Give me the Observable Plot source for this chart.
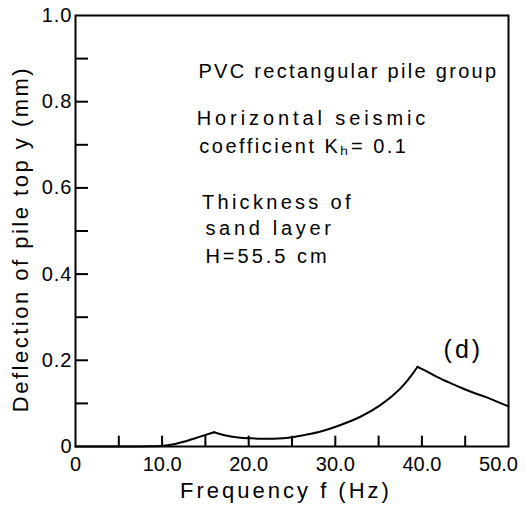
<!DOCTYPE html>
<html>
<head>
<meta charset="utf-8">
<script src="https://cdn.jsdelivr.net/npm/d3@7"></script>
<script src="https://cdn.jsdelivr.net/npm/@observablehq/plot@0.6"></script>
<style>
  html, body { margin: 0; padding: 0; background: #fff; }
</style>
</head>
<body>
<div id="chart"></div>
<script>
// Frequency (Hz) and deflection of pile top (mm)
const freq = [0, 5, 7, 8.5, 10.2, 11.5, 12.5, 14.4, 16.0, 17.5, 18.8, 20.2, 21.5, 22.9, 24.0, 25.2, 26.5, 28.3, 30.6, 32.9, 35.2, 36.8, 37.9, 38.9, 39.5, 40.5, 41.8, 43.3, 44.8, 46.2, 47.5, 48.8, 50];
const deflection = [0, 0, 0, 0.0005, 0.002, 0.006, 0.011, 0.023, 0.033, 0.025, 0.021, 0.019, 0.018, 0.018, 0.019, 0.022, 0.027, 0.035, 0.050, 0.069, 0.096, 0.121, 0.143, 0.168, 0.185, 0.175, 0.161, 0.147, 0.134, 0.123, 0.114, 0.103, 0.093];
// frequencies of the two sharp resonance peaks (cusps in the curve)
const peakFreqs = [16.0, 39.5];

const xTicks = [0, 10, 20, 30, 40];
const xTickLabels = ["0", "10.0", "20.0", "30.0", "40.0"];
const xLastTick = [50];
const xLastLabel = "50.0";
const xMinorTicks = [5, 10, 15, 20, 25, 30, 35, 40, 45];
const yTicks = [0, 0.2, 0.4, 0.6, 0.8, 1.0];
const yTickLabels = ["0", "0.2", "0.4", "0.6", "0.8", "1.0"];
const yMinorTicks = [0.1, 0.2, 0.3, 0.4, 0.5, 0.6, 0.7, 0.8, 0.9];

const xLabel = "Frequency f (Hz)";
const yLabel = "Deflection of pile top y (mm)";
const noteTexts = ["PVC rectangular pile group", "Horizontal seismic", "coefficient K\u2095= 0.1", "Thickness of", "sand layer", "H=55.5 cm"];
const panelLabel = "(d)";

// split the curve at the peaks so each branch is smooth and the peaks stay sharp
const rows = [];
let seg = 0;
freq.forEach((f, i) => {
  rows.push({f, y: deflection[i], seg});
  if (peakFreqs.includes(f)) { seg++; rows.push({f, y: deflection[i], seg}); }
});

const notes = [
  {text: noteTexts[0], f: 14.2, v: 0.854},
  {text: noteTexts[1], f: 14.0, v: 0.746},
  {text: noteTexts[2], f: 14.3, v: 0.681},
  {text: noteTexts[3], f: 14.6, v: 0.552},
  {text: noteTexts[4], f: 15.0, v: 0.490},
  {text: noteTexts[5], f: 15.0, v: 0.425}
];

const chart = Plot.plot({
  width: 525,
  height: 513,
  marginLeft: 75,
  marginRight: 17,
  marginTop: 15,
  marginBottom: 67,
  style: {fontFamily: "Liberation Sans, Arial, sans-serif", background: "white", color: "black"},
  x: {domain: [0, 50]},
  y: {domain: [0, 1]},
  marks: [
    Plot.ruleX(xMinorTicks, {y1: 0, y2: 0.024, stroke: "black", strokeWidth: 2}),
    Plot.ruleY(yMinorTicks, {x1: 0, x2: 1.5, stroke: "black", strokeWidth: 2}),
    Plot.axisX(xTicks, {tickSize: 0, tickPadding: 10, fontSize: 20, label: null,
      tickFormat: d => xTickLabels[xTicks.indexOf(d)]}),
    Plot.axisX(xLastTick, {tickSize: 0, tickPadding: 10, fontSize: 20, label: null, dx: -10,
      tickFormat: () => xLastLabel}),
    Plot.axisY(yTicks, {tickSize: 0, tickPadding: 3, fontSize: 20, label: null,
      tickFormat: d => yTickLabels[yTicks.indexOf(d)]}),
    Plot.text([xLabel], {frameAnchor: "bottom", dy: 51, dx: -6, lineAnchor: "bottom", textAnchor: "middle", fontSize: 22}),
    Plot.text([yLabel], {frameAnchor: "left", dx: -55, dy: 8, rotate: -90, textAnchor: "middle", fontSize: 22}),
    Plot.text(notes, {x: "f", y: "v", text: "text", textAnchor: "start", lineAnchor: "bottom", fontSize: 20}),
    Plot.text([panelLabel], {x: 42.5, y: 0.206, textAnchor: "start", lineAnchor: "bottom", fontSize: 25}),
    Plot.line(rows, {x: "f", y: "y", z: "seg", curve: "monotone-x", stroke: "black", strokeWidth: 2}),
    Plot.frame({stroke: "black", strokeWidth: 2})
  ]
});

// letter spacing like the original stencil-style lettering
const textGroups = chart.querySelectorAll('g[aria-label="text"]');
const groupSpacings = ["3px", "2.5px", null, "3px"];
textGroups.forEach((g, i) => { if (groupSpacings[i]) g.setAttribute("letter-spacing", groupSpacings[i]); });
const noteSpacings = ["2.3px", "3.9px", "2.5px", "3.3px", "3.7px", "3px"];
if (textGroups[2]) textGroups[2].querySelectorAll("text").forEach((t, i) => t.setAttribute("letter-spacing", noteSpacings[i]));
chart.querySelectorAll('g[aria-label="y-axis tick label"]').forEach(g => g.setAttribute("letter-spacing", "1px"));

document.getElementById("chart").appendChild(chart);
</script>
</body>
</html>
